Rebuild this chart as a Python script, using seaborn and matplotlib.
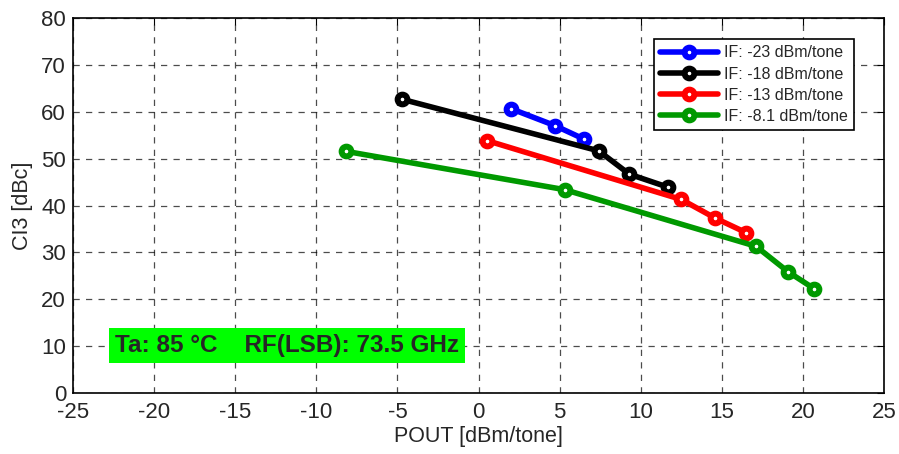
import pandas as pd
import seaborn as sns
import matplotlib
matplotlib.use('Agg')
import matplotlib.pyplot as plt

# POUT [dBm/tone] and CI3 [dBc] per IF drive level
if_labels = ['IF: -23 dBm/tone', 'IF: -18 dBm/tone', 'IF: -13 dBm/tone', 'IF: -8.1 dBm/tone']
colors = ['#0000ff', '#000000', '#ff0000', '#009900']

pout_23 = [2.0, 4.7, 6.5]
ci3_23 = [60.7, 57.1, 54.2]

pout_18 = [-4.7, 7.4, 9.3, 11.7]
ci3_18 = [62.7, 51.7, 46.7, 43.9]

pout_13 = [0.5, 12.5, 14.6, 16.5]
ci3_13 = [53.9, 41.3, 37.3, 34.2]

pout_8 = [-8.2, 5.3, 17.1, 19.1, 20.7]
ci3_8 = [51.6, 43.4, 31.3, 25.8, 22.2]

x_ticks = [-25, -20, -15, -10, -5, 0, 5, 10, 15, 20, 25]
y_ticks = [0, 10, 20, 30, 40, 50, 60, 70, 80]

frames = []
for lab, xs, ys in zip(if_labels, [pout_23, pout_18, pout_13, pout_8], [ci3_23, ci3_18, ci3_13, ci3_8]):
  frames.append(pd.DataFrame({'pout': xs, 'ci3': ys, 'IF': lab}))
df = pd.concat(frames, ignore_index=True)

sns.set_style('white')
plt.rcParams['font.family'] = ['Liberation Sans', 'DejaVu Sans']
plt.rcParams['axes.unicode_minus'] = False

fig = plt.figure(figsize=(8.99, 4.54), dpi=100)
ax = fig.add_axes([0.0812, 0.135, 0.9022, 0.8245])

for lab, col in zip(if_labels, colors):
  sns.lineplot(data=df[df['IF'] == lab], x='pout', y='ci3', color=col, label=lab,
               marker='o', markersize=7, markerfacecolor='white', markeredgecolor=col,
               markeredgewidth=4.3, linewidth=4, ax=ax, sort=False)

ax.set_xlim(-25, 25)
ax.set_ylim(0, 80)
ax.set_xticks(x_ticks)
ax.set_yticks(y_ticks)
ax.tick_params(direction='in', top=True, right=True, labelsize=16, length=5, color='black')
ax.tick_params(axis='x', pad=7)
ax.tick_params(axis='y', pad=5)
ax.grid(True, linestyle=(0, (5, 5)), color='black', linewidth=0.9, alpha=0.7)
for s in ax.spines.values():
  s.set_color('black')
  s.set_linewidth(1.2)

ax.set_xlabel('POUT [dBm/tone]', fontsize=15.5, labelpad=2)
ax.set_ylabel('CI3 [dBc]', fontsize=15.5, labelpad=6)

leg = ax.legend(loc='upper right', bbox_to_anchor=(0.973, 0.966), fontsize=11.5,
                frameon=True, fancybox=False, edgecolor='black', framealpha=1,
                handlelength=3.6, borderpad=0.4, labelspacing=0.38, handletextpad=0.4)
leg.get_frame().set_linewidth(1.2)

ax.text(-22.4, 10, 'Ta: 85 °C    RF(LSB): 73.5 GHz', fontsize=17.5, fontweight='bold',
        va='center', ha='left',
        bbox=dict(facecolor='#00ff00', edgecolor='none', boxstyle='square,pad=0.25'))

fig.savefig('out.png', dpi=100)
